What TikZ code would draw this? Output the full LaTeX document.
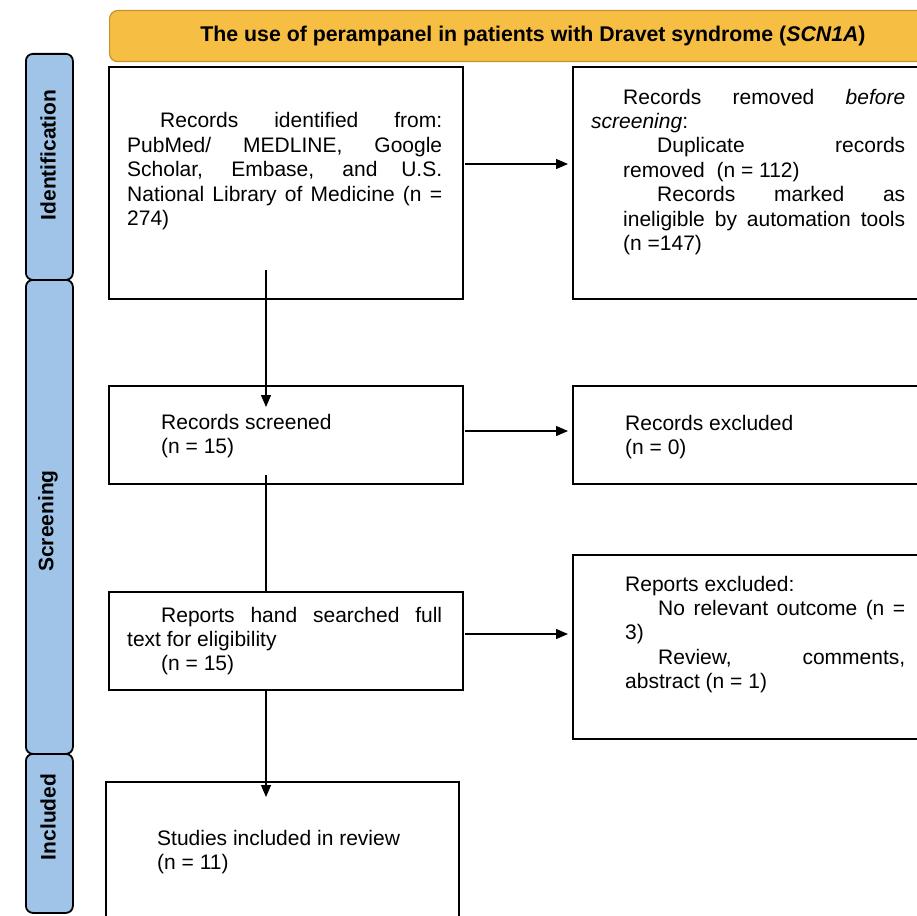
\documentclass[tikz,border=0pt]{standalone}
\usepackage{fontspec}
\usepackage{graphicx}
\setmainfont{Liberation Sans}
\usetikzlibrary{arrows.meta,calc}
\definecolor{lanefill}{RGB}{160,196,232}
\definecolor{titlefill}{RGB}{246,190,66}
\definecolor{titledraw}{RGB}{196,146,44}
\newcommand\Jl[2]{\makebox[#1][s]{#2}}
\begin{document}
\begin{tikzpicture}[x=1pt,y=-1pt,
  box/.style={draw, line width=1.8pt, rectangle, inner sep=0pt, anchor=north west},
  lane/.style={draw, line width=1.8pt, fill=lanefill, rounded corners=7pt, inner sep=0pt, anchor=north west, minimum width=47pt},
  txt/.style={inner sep=0pt, anchor=base west, font=\fontsize{21pt}{24.4pt}\selectfont},
  lanetxt/.style={rotate=90, font=\bfseries\fontsize{21pt}{24pt}\selectfont, inner sep=0pt},
  arr/.style={line width=1.3pt, -{Triangle[length=12pt,width=10pt]}},
  ln/.style={line width=1.3pt}]
\useasboundingbox (0,0) rectangle (917,915);
\clip (0,0) rectangle (917,915);
\fill[white] (0,0) rectangle (917,915);
% title
\node[draw=titledraw, fill=titlefill, line width=1.2pt, rounded corners=8pt, minimum width=850pt, minimum height=51pt, anchor=north west, inner sep=0pt] (title) at (109,10) {};
\node[inner sep=0pt, anchor=base, font=\bfseries\fontsize{21.3pt}{24pt}\selectfont] (titletext) at (533,42) {The use of perampanel in patients with Dravet syndrome (\textit{SCN1A})};
% lanes
\node[lane, minimum height=226pt] (lid) at (25,53) {};
\node[lane, minimum height=474pt] (lsc) at (25,279) {};
\node[lane, minimum height=159pt] (lin) at (25,753) {};
\node[lanetxt] (lidt) at (48,155) {Identification};
\node[lanetxt] (lsct) at (48,521) {Screening};
\node[lanetxt] (lint) at (48,817) {Included};
% boxes
\node[box, minimum width=354pt, minimum height=232pt] (b1) at (108,66) {};
\node[box, minimum width=400pt, minimum height=232pt] (b2) at (572,66) {};
\node[box, minimum width=354pt, minimum height=98pt] (b3) at (108,385) {};
\node[box, minimum width=400pt, minimum height=98pt] (b4) at (572,385) {};
\node[box, minimum width=354pt, minimum height=98pt] (b5) at (108,591) {};
\node[box, minimum width=400pt, minimum height=184pt] (b6) at (572,554) {};
\node[box, minimum width=353pt, minimum height=200pt] (b7) at (105,781) {};
% texts
\node[txt] (t1) at (127,128) {\parbox[t]{315pt}{%
\Jl{315pt}{\hspace*{33pt}Records identified from:}\\
\Jl{315pt}{PubMed/ MEDLINE, Google}\\
\Jl{315pt}{Scholar, Embase, and U.S.}\\
\Jl{315pt}{National Library of Medicine (n =}\\
274)}};
\node[txt] (t2) at (591,104) {\parbox[t]{314pt}{%
\Jl{314pt}{\hspace*{32pt}Records removed \textit{before}}\\
\textit{screening}:\\
\hspace*{32pt}\Jl{282pt}{\hspace*{34pt}Duplicate records}\\
\hspace*{32pt}removed\ \ (n = 112)\\
\hspace*{32pt}\Jl{282pt}{\hspace*{34pt}Records marked as}\\
\hspace*{32pt}\Jl{282pt}{ineligible by automation tools}\\
\hspace*{32pt}(n =147)}};
\node[txt] (t3) at (161,429) {\parbox[t]{290pt}{Records screened\\(n = 15)}};
\node[txt] (t4) at (625,430) {\parbox[t]{280pt}{Records excluded\\(n = 0)}};
\node[txt] (t5) at (127,622) {\parbox[t]{315pt}{%
\Jl{315pt}{\hspace*{34pt}Reports hand searched full}\\
text for eligibility\\
\hspace*{34pt}(n = 15)}};
\node[txt] (t6) at (625,591) {\parbox[t]{280pt}{%
Reports excluded:\\
\Jl{280pt}{\hspace*{33pt}No relevant outcome (n =}\\
3)\\
\Jl{280pt}{\hspace*{33pt}Review, comments,}\\
abstract (n = 1)}};
\node[txt] (t7) at (157,845) {\parbox[t]{290pt}{Studies included in review\\(n = 11)}};
% connectors
\draw[arr] ($(b1.north east)+(1,98)$) -- ($(b2.north west)+(-4,98)$);
\draw[arr] ($(b1.south west)+(158,-30)$) -- ($(b3.north west)+(158,22)$);
\draw[arr] ($(b3.north east)+(1,46)$) -- ($(b4.north west)+(-4,46)$);
\draw[ln] ($(b3.south west)+(158,-10)$) -- ($(b5.north west)+(158,0)$);
\draw[arr] ($(b5.north east)+(1,43)$) -- ($(b6.north west)+(-4,80)$);
\draw[arr] ($(b5.south west)+(158,0)$) -- ($(b7.north west)+(161,16)$);
\end{tikzpicture}
\end{document}
